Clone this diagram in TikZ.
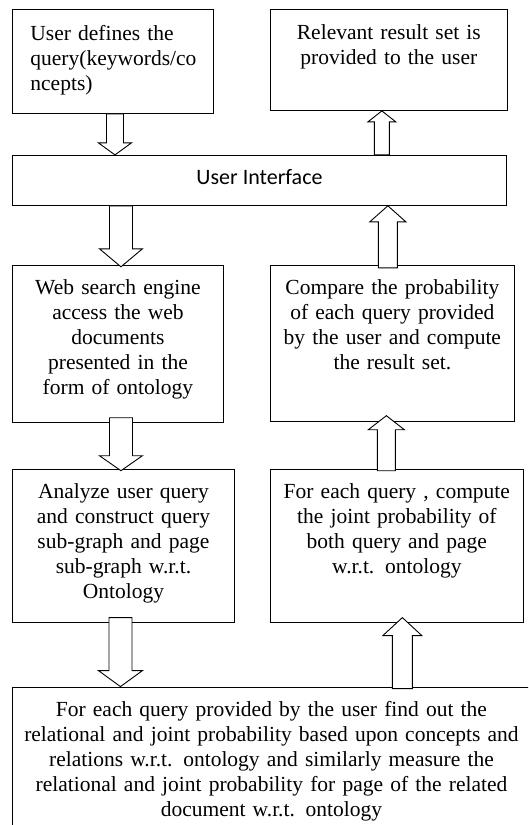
\documentclass[tikz,border=0pt]{standalone}
\usepackage{fontspec}
\setmainfont{Liberation Serif}
\newfontfamily\uifont{Carlito}
\usetikzlibrary{positioning, calc}

\newcommand{\hollowarrow}[5]{%
  \draw[blockarrow] let \p1=(#1), \p2=(#2), \n1={ifthenelse(\y2>\y1,1,-1)} in
    ({\x1-#3pt},\y1) -- ({\x1-#3pt},{\y2-\n1*#5pt}) -- ({\x1-#4pt},{\y2-\n1*#5pt})
    -- (\x1,\y2) -- ({\x1+#4pt},{\y2-\n1*#5pt}) -- ({\x1+#3pt},{\y2-\n1*#5pt})
    -- ({\x1+#3pt},\y1) -- cycle;}

\begin{document}
\begin{tikzpicture}[x=1pt,y=-1pt,
    box/.style={draw,line width=0.9pt,inner sep=2pt,align=center,anchor=north west,
      font=\fontsize{21.5}{25}\selectfont,text height=27pt},
    uibox/.style={draw,line width=0.9pt,inner sep=0pt,minimum width=494pt,
      text height=29pt,text depth=21pt,font=\uifont\fontsize{22}{26}\selectfont},
    blockarrow/.style={draw,line width=0.9pt,fill=white,line join=miter}]
       \clip (0,0) rectangle (528,825);
       \node[box,align=left,text width=197pt,text height=29pt,text depth=71pt] (query) at (12,9)
            {\hspace*{16pt}User defines the\\\hspace*{16pt}query(keywords/co\\\hspace*{16pt}ncepts)};
       \node[box,text width=233pt,text height=28pt,text depth=69pt,right=56pt of query.north east,anchor=north west] (result)
            {Relevant result set is\\provided to the user};
       \node[uibox,below=41pt of query.south west,anchor=north west] (ui) {User Interface};
       \node[box,text width=207pt,text depth=126pt,below=59pt of ui.south west,anchor=north west] (web)
            {Web search engine\\access the web\\documents\\presented in the\\form of ontology};
       \node[box,text width=240pt,text depth=125pt,right=46pt of web.north east,anchor=north west] (cmp)
            {Compare the probability\\of each query provided\\by the user and compute\\the result set.};
       \node[box,text width=218pt,text depth=122pt,below=46pt of web.south west,anchor=north west] (ana)
            {Analyze user query\\and construct query\\sub-graph and page\\sub-graph w.r.t.\\Ontology};
       \node[box,text width=249pt,text depth=122pt,right=35pt of ana.north east,anchor=north west] (feq)
            {For each query , compute\\the joint probability of\\both query and page\\w.r.t. ontology};
       \node[box,text width=514pt,text depth=114pt,below=64pt of ana.south west,anchor=north west] (rel)
            {For each query provided by the user find out the\\relational and joint probability based upon concepts and\\relations w.r.t. ontology and similarly measure the\\relational and joint probability for page of the related\\document w.r.t. ontology};
       \hollowarrow{$(query.south)+(2,0)$}{ui.north}{8.5}{16.5}{12}
       \hollowarrow{$(ui.north -| result.south)+(-7,0)$}{result.south}{7.5}{14}{11}
       \hollowarrow{$(ui.south -| web.north)+(3,0)$}{$(web.north)+(0,2)$}{11.5}{21.5}{18}
       \hollowarrow{$(cmp.north)+(-4.5,3)$}{ui.south}{9.5}{18}{16}
       \hollowarrow{$(web.south)+(3,-5)$}{$(ana.north)+(0,2)$}{11.5}{21.5}{15}
       \hollowarrow{$(feq.north)+(-10.5,2)$}{$(cmp.south)+(0,-6)$}{9}{18}{14}
       \hollowarrow{$(ana.south)+(-3,-5)$}{rel.north}{11.5}{22}{16}
       \hollowarrow{$(rel.north -| feq.south)+(5.5,2)$}{$(feq.south)+(0,-5)$}{10}{19.5}{18}
\end{tikzpicture}
\end{document}
